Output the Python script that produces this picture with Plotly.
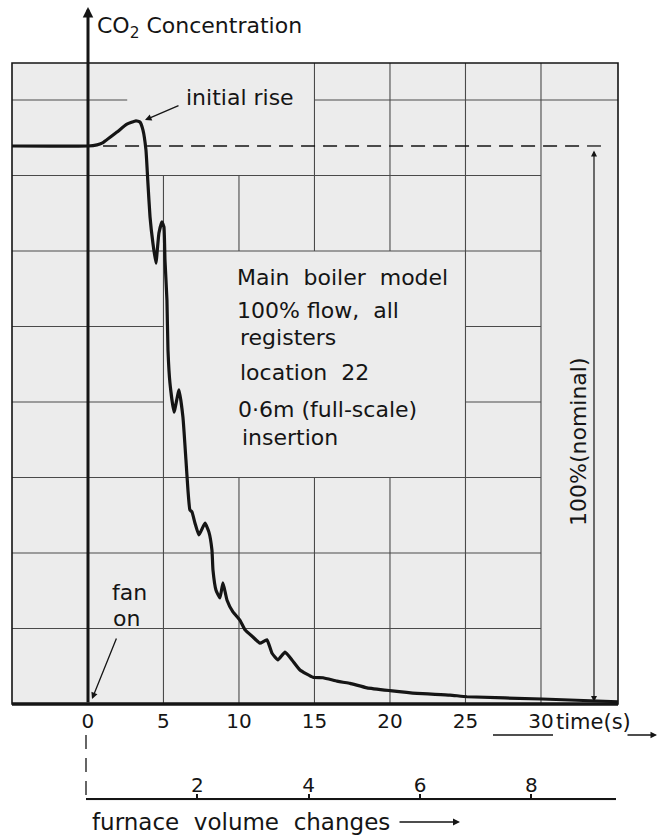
import plotly.graph_objects as go

# ---------------- data ----------------
time_s = [-5.03, 0.0, 0.6, 0.93, 1.92, 2.58, 3.18, 3.44, 3.64, 3.84, 3.97, 4.11, 4.3, 4.5,
          4.7, 4.9, 5.03, 5.1, 5.23, 5.3, 5.43, 5.7, 6.03, 6.29, 6.49, 6.62, 6.75, 6.89,
          7.09, 7.35, 7.75, 8.01, 8.21, 8.28, 8.48, 8.74, 8.94, 9.21, 9.6, 10.07, 10.4,
          10.93, 11.39, 11.85, 12.19, 12.58, 13.05, 13.51, 14.04, 14.9, 15.56, 16.49,
          16.89, 17.35, 18.48, 20.0, 21.79, 23.97, 25.1, 30.07, 35.1]
co2_pct = [100.0, 100.0, 100.2, 100.5, 102.5, 103.9, 104.5, 104.3, 102.9, 99.3, 93.4, 87.3,
           82.6, 79.0, 84.4, 86.4, 85.5, 79.6, 72.4, 63.4, 57.5, 52.3, 56.3, 51.4, 43.7,
           38.4, 34.8, 34.4, 32.4, 30.3, 32.4, 30.8, 27.6, 24.0, 20.4, 19.0, 21.7, 18.6,
           16.5, 15.0, 13.3, 12.0, 10.9, 11.5, 9.1, 7.9, 9.3, 7.9, 6.1, 4.8, 4.7, 4.1,
           3.9, 3.7, 2.9, 2.4, 1.9, 1.6, 1.3, 0.9, 0.4]
nominal_level = 100
time_ticks = [0, 5, 10, 15, 20, 25, 30]
time_tick_labels = ["0", "5", "10", "15", "20", "25", "30"]
volume_ticks = [2, 4, 6, 8]
volume_tick_labels = ["2", "4", "6", "8"]

# ---------------- layout helpers ----------------
W, H = 664, 838
ML, MR, MT, MB = 12, 46, 63, 37
PW = W - ML - MR
PH = H - MT - MB


def px(x):
    return (x - ML) / PW


def py(y):
    return (H - MB - y) / PH


X_RANGE = [-5.03, 35.1]
Y_RANGE = [0, 114.87]
CELL_Y = 13.53
FONT = "DejaVu Sans"
INK = "#151515"
GRIDC = "#4a4a4a"

fig = go.Figure()
fig.add_trace(go.Scatter(x=time_s, y=co2_pct, mode="lines",
                         line=dict(color=INK, width=3.2, shape="spline", smoothing=0.4),
                         hoverinfo="skip", showlegend=False))
# invisible trace so the furnace-volume axis exists
fig.add_trace(go.Scatter(x=[0, 9.5], y=[0, 0], xaxis="x2", yaxis="y2", mode="markers",
                         marker=dict(opacity=0), hoverinfo="skip", showlegend=False))

shapes = []
TOPK = Y_RANGE[1] / CELL_Y
vgrid = [(5, 0, 7), (10, 6, 7), (10, 0, 3), (15, 6, TOPK), (15, 0, 3),
         (20, 6, TOPK), (20, 0, 3), (25, 0, TOPK), (30, 0, TOPK)]
hgrid = [(1, -5.03, 30), (2, -5.03, 30), (3, -5.03, 30), (4, -5.03, 5), (4, 25, 30),
         (5, -5.03, 5), (5, 25, 30), (6, -5.03, 30), (7, -5.03, 30),
         (8, -5.03, 2.6), (8, 15, 35.1)]
for t, k0, k1 in vgrid:
    shapes.append(dict(type="line", xref="x", yref="y", x0=t, x1=t, y0=k0 * CELL_Y,
                       y1=k1 * CELL_Y, line=dict(color=GRIDC, width=1.1), layer="below"))
for k, t0, t1 in hgrid:
    shapes.append(dict(type="line", xref="x", yref="y", x0=t0, x1=t1, y0=k * CELL_Y,
                       y1=k * CELL_Y, line=dict(color=GRIDC, width=1.1), layer="below"))
# frame
shapes.append(dict(type="rect", xref="x domain", yref="y domain", x0=0, x1=1, y0=0, y1=1,
                   line=dict(color=INK, width=1.6)))
shapes.append(dict(type="line", xref="x domain", yref="y domain", x0=0, x1=1, y0=0, y1=0,
                   line=dict(color=INK, width=3.5)))
# nominal (100 %) dashed level and its end tick
shapes.append(dict(type="line", xref="x", yref="y", x0=1.0, x1=32.8, y0=nominal_level,
                   y1=nominal_level, line=dict(color=INK, width=1.3, dash="14px,8px")))
shapes.append(dict(type="line", xref="x", yref="y", x0=33.05, x1=33.97, y0=nominal_level,
                   y1=nominal_level, line=dict(color=INK, width=1.3)))
# dashed drop line at volume 0
shapes.append(dict(type="line", xref="paper", yref="paper", x0=px(86), x1=px(86),
                   y0=py(735), y1=py(800), line=dict(color=INK, width=1.3, dash="14px,9px")))
# underline under "30"
shapes.append(dict(type="line", xref="paper", yref="paper", x0=px(493), x1=px(553),
                   y0=py(735), y1=py(735), line=dict(color=INK, width=1.3)))

ann = []


def text(x, y, s, size=22, xanchor="left", angle=0):
    ann.append(dict(x=px(x), y=py(y), xref="paper", yref="paper", text=s, showarrow=False,
                    xanchor=xanchor, yanchor="middle", textangle=angle,
                    font=dict(family=FONT, size=size, color=INK)))


def arrow(hx, hy, tx, ty, width=1.3, head=2, size=1.0, side="end"):
    ann.append(dict(x=px(hx), y=py(hy), xref="paper", yref="paper", text="",
                    showarrow=True, ax=tx - hx, ay=ty - hy, arrowhead=head,
                    arrowsize=size, arrowwidth=width, arrowcolor=INK, arrowside=side,
                    startarrowhead=head, startarrowsize=size))


text(95, 28, "CO<sub>2</sub> Concentration", 22)
text(184, 98, "initial rise", 22)
arrow(145, 120, 180, 105)
text(235, 277, "Main  boiler  model", 22)
text(235, 310, "100% flow,  all", 22)
text(238, 337, "registers", 22)
text(238, 373, "location  22", 22)
text(236, 409, "0·6m (full-scale)", 22)
text(240, 438, "insertion", 22)
text(129, 592, "fan", 22, "center")
text(126, 618, "on", 22, "center")
arrow(92, 699, 117, 637)
text(578, 442, "100%(nominal)", 22, "center", -90)
arrow(594, 702, 594, 149, width=1.2, side="end+start")
text(554, 722, "time(s)", 21)
arrow(657, 735, 626, 735, width=1.3)
text(90, 822, "furnace  volume  changes", 23)
arrow(460, 822, 398, 822, width=1.4)
arrow(88, 7, 88, 704, width=3, size=0.7)

fig.update_layout(
    width=W, height=H, margin=dict(l=ML, r=MR, t=MT, b=MB, autoexpand=False),
    paper_bgcolor="white", plot_bgcolor="#ececec", showlegend=False,
    xaxis=dict(domain=[0, 1], range=X_RANGE, anchor="y", showgrid=False, zeroline=False,
               showline=False, ticks="", tickvals=time_ticks, ticktext=time_tick_labels,
               ticklabelstandoff=3,
               tickfont=dict(family=FONT, size=20, color=INK)),
    yaxis=dict(domain=[py(704), 1], range=Y_RANGE, showgrid=False, zeroline=False,
               showline=False, showticklabels=False, ticks=""),
    xaxis2=dict(domain=[px(86), px(616)], range=[0, (616 - 86) / 55.67], anchor="y2",
                side="top", showgrid=False, zeroline=False, showline=True, linecolor=INK,
                linewidth=1.5, ticks="outside", ticklen=5, tickwidth=1.5, tickcolor=INK,
                ticklabelstandoff=-6,
                tickvals=volume_ticks, ticktext=volume_tick_labels,
                tickfont=dict(family=FONT, size=20, color=INK)),
    yaxis2=dict(domain=[0, 0.001], range=[0, 1], visible=False),
    shapes=shapes, annotations=ann,
)
fig.write_html("out.html", config={"displayModeBar": False},
               post_script="document.body.style.margin='0';"
                           "document.documentElement.style.overflow='hidden';")
